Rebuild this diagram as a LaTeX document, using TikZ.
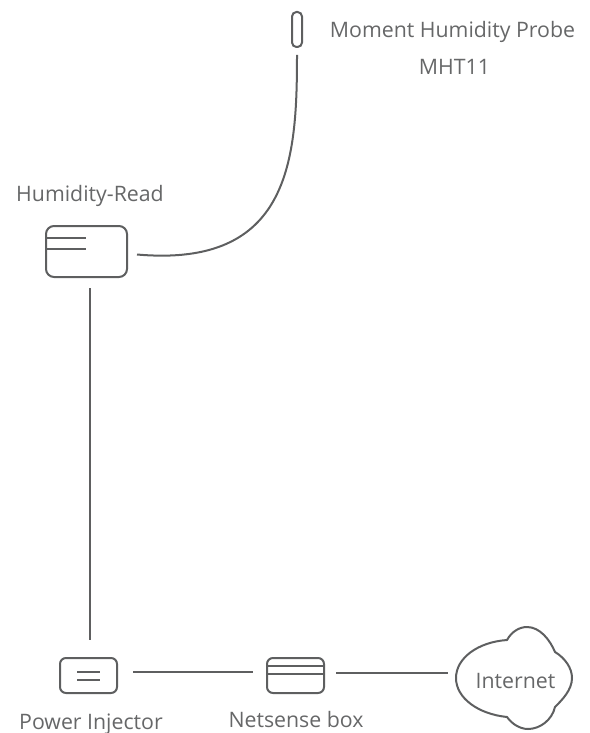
\documentclass[tikz,border=0pt]{standalone}
\usepackage{fontspec}
\setmainfont{Open Sans}
\usepackage{xcolor}
\usetikzlibrary{positioning, calc}
\definecolor{linegray}{HTML}{5E5F60}
\definecolor{textgray}{HTML}{666768}
\tikzset{
  devbox/.style={draw=linegray, line width=2pt, rounded corners=6pt, inner sep=0pt, outer sep=0pt},
  lbl/.style={text=textgray, font=\fontsize{21.3pt}{24pt}\selectfont, inner sep=0pt, anchor=base},
  wire/.style={draw=linegray, line width=2pt}
}
\begin{document}
\begin{tikzpicture}[x=1pt,y=-1pt]
  \useasboundingbox (0,0) rectangle (589,733);
  % devices
  \node[devbox, minimum width=10pt, minimum height=35pt, rounded corners=4.5pt] (probe) at (297,29.5) {};
  \node[devbox, minimum width=81pt, minimum height=51pt, rounded corners=8pt] (read) at (86.5,251.5) {};
  \node[devbox, minimum width=57pt, minimum height=35pt] (injector) at (88.5,675.5) {};
  \node[devbox, minimum width=57pt, minimum height=35pt] (netbox) at (295.5,675.5) {};
  % inner lines of the devices
  \draw[wire] (read.west |- 0,238) -- (86,238);
  \draw[wire] (read.west |- 0,249) -- (86,249);
  \draw[wire] (77,672) -- (100,672);
  \draw[wire] (77,680) -- (100,680);
  \draw[wire] (netbox.west |- 0,666) -- (netbox.east |- 0,666);
  \draw[wire] (netbox.west |- 0,674) -- (netbox.east |- 0,674);
  % cloud
  \node[lbl] (internet) at (515.5,688.5) {Internet};
  \coordinate (cloudin) at (448,673);
  \draw[wire, line join=round] (456,678)
    .. controls (456,658) and (478,642) .. (507,640)
    .. controls (512,631) and (520,627) .. (527,627)
    .. controls (540,627) and (550,640) .. (555,652)
    .. controls (565,658) and (572,668) .. (572,678)
    .. controls (572,690) and (562,700) .. (555,707)
    .. controls (552,720) and (540,729) .. (528,729)
    .. controls (520,729) and (512,724) .. (507,717)
    .. controls (478,714) and (456,698) .. (456,678) -- cycle;
  % connectors
  \draw[wire] ($(probe.south)+(0,8)$) .. controls (297,160) and (290,268) .. ($(read.east)+(10,3)$);
  \draw[wire] ($(read.south)+(3.5,11)$) -- ($(injector.north)+(1.5,-18)$);
  \draw[wire] ($(injector.east)+(16,-3.5)$) -- ($(netbox.west)+(-14,-3.5)$);
  \draw[wire] ($(netbox.east)+(12,-2.5)$) -- (cloudin);
  % labels
  \node[lbl] (probename) at (452.5,38) {Moment Humidity Probe};
  \node[lbl] (probetype) at (454.5,74.5) {MHT11};
  \node[lbl] (readname) at (90,201.5) {Humidity-Read};
  \node[lbl] (injname) at (91,729) {Power Injector};
  \node[lbl] (netname) at (296,727) {Netsense box};
\end{tikzpicture}
\end{document}
